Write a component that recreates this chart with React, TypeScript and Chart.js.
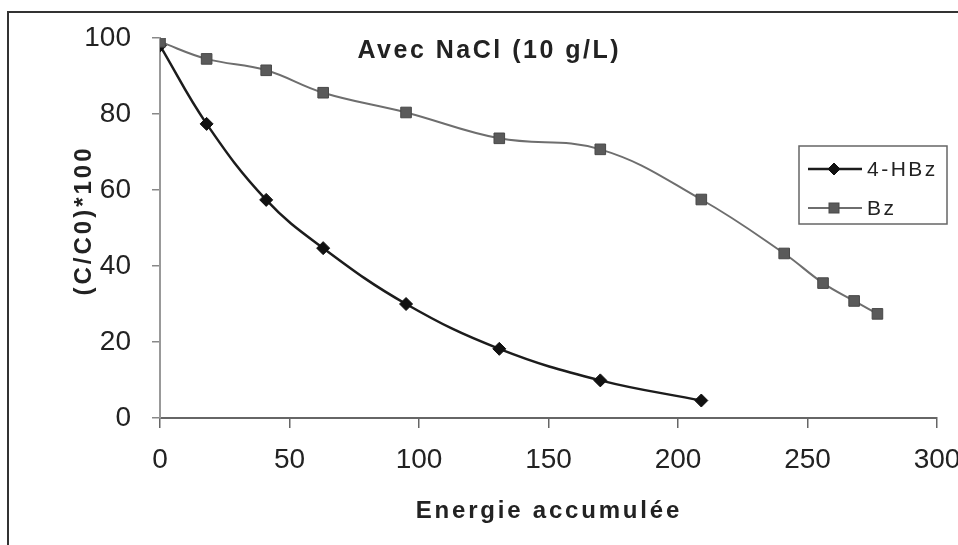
import React, { useEffect, useRef } from 'react';
import { Chart, registerables } from 'chart.js';

Chart.register(...registerables);

// ---- data ----
const seriesNames = ['4-HBz', 'Bz'];
const hbzX = [0, 18, 41, 63, 95, 131, 170, 209];
const hbzY = [98, 77.4, 57.4, 44.7, 30, 18.2, 9.9, 4.6];
const bzX = [0, 18, 41, 63, 95, 131, 170, 209, 241, 256, 268, 277];
const bzY = [99, 94.5, 91.5, 85.6, 80.4, 73.6, 70.7, 57.5, 43.3, 35.5, 30.8, 27.4];
const xTickValues = [0, 50, 100, 150, 200, 250, 300];
const yTickValues = [0, 20, 40, 60, 80, 100];
const chartTitle = 'Avec NaCl (10 g/L)';
const xTitle = 'Energie accumulée';
const yTitle = '(C/C0)*100';

const FONT = '"Liberation Sans", Arial, Helvetica, sans-serif';

function drawSpaced(ctx: CanvasRenderingContext2D, text: string, x: number, y: number, spacing: number) {
  const c: any = ctx;
  c.letterSpacing = spacing + 'px';
  const w = ctx.measureText(text).width - spacing;
  ctx.textAlign = 'left';
  ctx.fillText(text, x - w / 2, y);
  c.letterSpacing = '0px';
}

const decorPlugin = {
  id: 'decor',
  beforeDraw(chart: any) {
    const ctx = chart.ctx as CanvasRenderingContext2D;
    ctx.save();
    ctx.fillStyle = '#ffffff';
    ctx.fillRect(0, 0, chart.width, chart.height);
    ctx.strokeStyle = '#333333';
    ctx.lineWidth = 2;
    ctx.beginPath();
    ctx.moveTo(8, chart.height + 5);
    ctx.lineTo(8, 12);
    ctx.lineTo(chart.width + 5, 12);
    ctx.stroke();
    ctx.restore();
  },
  afterDraw(chart: any) {
    const ctx = chart.ctx as CanvasRenderingContext2D;
    const area = chart.chartArea;
    ctx.save();
    ctx.fillStyle = '#222222';
    ctx.textBaseline = 'alphabetic';
    // chart title inside plot
    ctx.font = `bold 25px ${FONT}`;
    drawSpaced(ctx, chartTitle, 488, 58, 2.5);
    // x title
    ctx.font = `bold 24px ${FONT}`;
    drawSpaced(ctx, xTitle, (area.left + area.right) / 2 - 1, 518, 2.8);
    // y title
    ctx.save();
    ctx.translate(91, 222);
    ctx.rotate(-Math.PI / 2);
    ctx.font = `bold 24px ${FONT}`;
    drawSpaced(ctx, yTitle, 0, 0, 3);
    ctx.restore();

    // legend
    const bx = 799, by = 146, bw = 148, bh = 78;
    ctx.strokeStyle = '#666666';
    ctx.lineWidth = 1.5;
    ctx.strokeRect(bx, by, bw, bh);
    const ds = chart.data.datasets;
    const rows = [169, 208];
    ds.forEach((d: any, i: number) => {
      const y = rows[i];
      ctx.strokeStyle = d.borderColor;
      ctx.lineWidth = d.borderWidth;
      ctx.beginPath();
      ctx.moveTo(808, y);
      ctx.lineTo(862, y);
      ctx.stroke();
      ctx.fillStyle = d.pointBackgroundColor;
      ctx.strokeStyle = d.pointBorderColor;
      ctx.lineWidth = 1;
      if (d.pointStyle === 'rectRot') {
        const r = 6;
        ctx.beginPath();
        ctx.moveTo(834, y - r);
        ctx.lineTo(834 + r, y);
        ctx.lineTo(834, y + r);
        ctx.lineTo(834 - r, y);
        ctx.closePath();
        ctx.fill();
        ctx.stroke();
      } else {
        const s = 10;
        ctx.fillRect(834 - s / 2, y - s / 2, s, s);
        ctx.strokeRect(834 - s / 2, y - s / 2, s, s);
      }
      ctx.fillStyle = '#222222';
      ctx.font = `21px ${FONT}`;
      (ctx as any).letterSpacing = '2.5px';
      ctx.textAlign = 'left';
      ctx.textBaseline = 'middle';
      ctx.fillText(d.label, 867, y + 1);
      (ctx as any).letterSpacing = '0px';
    });
    ctx.restore();
  },
};

export default function App() {
  const ref = useRef<HTMLCanvasElement | null>(null);
  useEffect(() => {
    if (!ref.current) return;
    const chart = new Chart(ref.current, {
      type: 'line',
      data: {
        datasets: [
          {
            label: seriesNames[0],
            data: hbzX.map((x, i) => ({ x, y: hbzY[i] })),
            borderColor: '#1c1c1c',
            borderWidth: 2.5,
            pointStyle: 'rectRot',
            pointRadius: 6.5,
            pointBackgroundColor: '#111111',
            pointBorderColor: '#111111',
            pointBorderWidth: 1,
            tension: 0.4,
            order: 1,
          },
          {
            label: seriesNames[1],
            data: bzX.map((x, i) => ({ x, y: bzY[i] })),
            borderColor: '#6e6e6e',
            borderWidth: 2,
            pointStyle: 'rect',
            pointRadius: 7.5,
            pointBackgroundColor: '#5a5a5a',
            pointBorderColor: '#484848',
            pointBorderWidth: 1,
            tension: 0.4,
            order: 0,
          },
        ],
      },
      options: {
        responsive: false,
        animation: false,
        layout: { padding: { left: 0, top: 38, right: 21, bottom: 0 } },
        plugins: {
          legend: { display: false },
          tooltip: { enabled: false },
          title: { display: false },
        },
        scales: {
          x: {
            type: 'linear',
            min: 0,
            max: 300,
            afterBuildTicks: (s: any) => {
              s.ticks = xTickValues.map((v) => ({ value: v }));
            },
            afterFit: (s: any) => {
              s.height = 127;
              s.paddingLeft = 0;
              s.paddingRight = 0;
            },
            border: { display: true, color: '#666666', width: 2 },
            grid: { display: true, drawOnChartArea: false, drawTicks: true, tickLength: 10, color: '#666666', lineWidth: 1.5 },
            ticks: { color: '#222222', font: { family: FONT, size: 28 }, padding: 15, maxRotation: 0 },
          },
          y: {
            type: 'linear',
            min: 0,
            max: 100,
            afterBuildTicks: (s: any) => {
              s.ticks = yTickValues.map((v) => ({ value: v }));
            },
            afterFit: (s: any) => {
              s.width = 160;
              s.paddingTop = 0;
              s.paddingBottom = 0;
            },
            border: { display: true, color: '#999999', width: 2 },
            grid: { display: true, drawOnChartArea: false, drawTicks: true, tickLength: 8, color: '#888888', lineWidth: 1.5 },
            ticks: { color: '#222222', font: { family: FONT, size: 28 }, padding: 21 },
          },
        },
      },
      plugins: [decorPlugin],
    } as any);
    return () => chart.destroy();
  }, []);
  return (
    <div style={{ position: 'fixed', left: 0, top: 0, width: 958, height: 545, background: '#fff' }}>
      <canvas ref={ref} width={958} height={545} style={{ display: 'block' }} />
    </div>
  );
}
